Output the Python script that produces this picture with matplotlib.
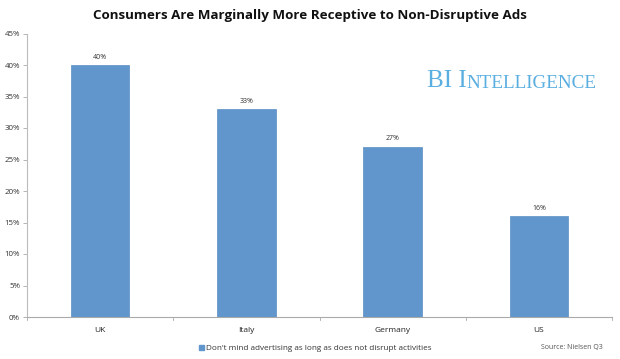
import matplotlib
matplotlib.use("Agg")
import matplotlib.pyplot as plt
from matplotlib.patches import Rectangle

categories = ["UK", "Italy", "Germany", "US"]
values = [40, 33, 27, 16]
value_labels = ["40%", "33%", "27%", "16%"]
yticks = [0, 5, 10, 15, 20, 25, 30, 35, 40, 45]
series_name = "Don't mind advertising as long as does not disrupt activities"

bar_color = "#6096CB"
plt.rcParams['font.family'] = ['Open Sans', 'DejaVu Sans']

fig = plt.figure(figsize=(6.2, 3.59), dpi=100)
ax = fig.add_axes([27/620, 1-317/359, (612-27)/620, (317-33.5)/359])

x = list(range(len(categories)))
ax.bar(x, values, width=0.4, color=bar_color, edgecolor="#5A8EC4", linewidth=0.5, zorder=2)
for xi, v, lab in zip(x, values, value_labels):
    ax.text(xi, v + 0.7, lab, ha="center", va="bottom", fontsize=5, color="#333333")

ax.set_xlim(-0.5, len(categories) - 0.5)
ax.set_ylim(0, 45)
ax.set_yticks(yticks)
ax.set_yticklabels([f"{t}%" for t in yticks], fontsize=5.7, color="#333333")
ax.set_xticks(x)
ax.set_xticklabels(categories, fontsize=6, color="#222222")
ax.tick_params(axis="x", length=0, pad=7)
ax.tick_params(axis="y", length=3, width=0.6, color="#AAAAAA", pad=2, direction="out")
for b in [-0.5, 0.5, 1.5, 2.5, 3.5]:
    ax.plot([b, b], [0, -0.012], transform=ax.get_xaxis_transform(), color="#AAAAAA",
            linewidth=0.6, clip_on=False)
for s in ["top", "right"]:
    ax.spines[s].set_visible(False)
ax.spines["left"].set_color("#BBBBBB")
ax.spines["bottom"].set_color("#AAAAAA")
ax.spines["left"].set_linewidth(0.8)
ax.spines["bottom"].set_linewidth(0.8)

fig.text(0.5, 1-16/359, "Consumers Are Marginally More Receptive to Non-Disruptive Ads",
         ha="center", va="center", fontsize=9.6, fontweight="bold", color="#111111")

# legend
fig.patches.append(Rectangle((199/620, 1-350/359), 5/620, 5/359, transform=fig.transFigure,
                             color=bar_color, figure=fig))
fig.text(206/620, 1-348/359, series_name, ha="left", va="center", fontsize=5.9, color="#333333")
fig.text(603/620, 1-348/359, "Source: Nielsen Q3", ha="right", va="center", fontsize=5, color="#555555")

# BI Intelligence logo
t1 = fig.text(427/620, 1-87/359, "BI I", ha="left", va="baseline", fontsize=18,
              color="#5AAEE0", family="Liberation Serif")
ax.annotate("NTELLIGENCE", xy=(1, 0), xycoords=t1, va="bottom", ha="left", fontsize=13.8,
            color="#5AAEE0", family="Liberation Serif", annotation_clip=False)

fig.savefig("out.png", dpi=100)
